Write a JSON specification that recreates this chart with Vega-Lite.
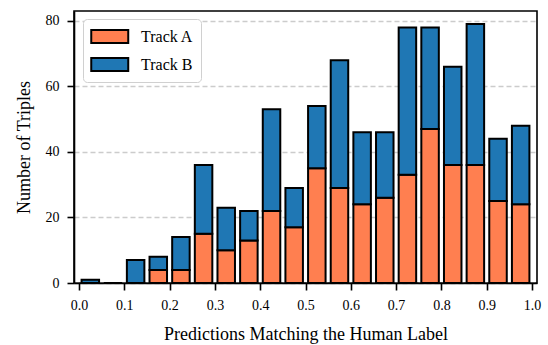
{
  "$schema": "https://vega.github.io/schema/vega-lite/v6.json",
  "autosize": {"type": "none"},
  "width": 463,
  "height": 272,
  "padding": {"left": 74, "top": 11, "right": 11, "bottom": 62},
  "background": "white",
  "config": {
    "font": "Liberation Serif",
    "view": {"stroke": "black", "strokeWidth": 1.6},
    "axis": {
      "labelFont": "Liberation Serif",
      "titleFont": "Liberation Serif",
      "labelFontSize": 14,
      "titleFontSize": 18,
      "titleFontWeight": "normal",
      "labelColor": "black",
      "titleColor": "black",
      "domainColor": "black",
      "domainWidth": 1.6,
      "tickColor": "black",
      "tickWidth": 1.6,
      "tickSize": 7
    }
  },
  "data": {
    "values": [
      {"bin": 0.025, "track": "Track A", "count": 0},
      {"bin": 0.025, "track": "Track B", "count": 1},
      {"bin": 0.075, "track": "Track A", "count": 0},
      {"bin": 0.075, "track": "Track B", "count": 0},
      {"bin": 0.125, "track": "Track A", "count": 0},
      {"bin": 0.125, "track": "Track B", "count": 7},
      {"bin": 0.175, "track": "Track A", "count": 4},
      {"bin": 0.175, "track": "Track B", "count": 4},
      {"bin": 0.225, "track": "Track A", "count": 4},
      {"bin": 0.225, "track": "Track B", "count": 10},
      {"bin": 0.275, "track": "Track A", "count": 15},
      {"bin": 0.275, "track": "Track B", "count": 21},
      {"bin": 0.325, "track": "Track A", "count": 10},
      {"bin": 0.325, "track": "Track B", "count": 13},
      {"bin": 0.375, "track": "Track A", "count": 13},
      {"bin": 0.375, "track": "Track B", "count": 9},
      {"bin": 0.425, "track": "Track A", "count": 22},
      {"bin": 0.425, "track": "Track B", "count": 31},
      {"bin": 0.475, "track": "Track A", "count": 17},
      {"bin": 0.475, "track": "Track B", "count": 12},
      {"bin": 0.525, "track": "Track A", "count": 35},
      {"bin": 0.525, "track": "Track B", "count": 19},
      {"bin": 0.575, "track": "Track A", "count": 29},
      {"bin": 0.575, "track": "Track B", "count": 39},
      {"bin": 0.625, "track": "Track A", "count": 24},
      {"bin": 0.625, "track": "Track B", "count": 22},
      {"bin": 0.675, "track": "Track A", "count": 26},
      {"bin": 0.675, "track": "Track B", "count": 20},
      {"bin": 0.725, "track": "Track A", "count": 33},
      {"bin": 0.725, "track": "Track B", "count": 45},
      {"bin": 0.775, "track": "Track A", "count": 47},
      {"bin": 0.775, "track": "Track B", "count": 31},
      {"bin": 0.825, "track": "Track A", "count": 36},
      {"bin": 0.825, "track": "Track B", "count": 30},
      {"bin": 0.875, "track": "Track A", "count": 36},
      {"bin": 0.875, "track": "Track B", "count": 43},
      {"bin": 0.925, "track": "Track A", "count": 25},
      {"bin": 0.925, "track": "Track B", "count": 19},
      {"bin": 0.975, "track": "Track A", "count": 24},
      {"bin": 0.975, "track": "Track B", "count": 24}
    ]
  },
  "mark": {"type": "bar", "width": 17.5, "stroke": "black", "strokeWidth": 2, "opacity": 1},
  "encoding": {
    "x": {
      "field": "bin",
      "type": "quantitative",
      "scale": {"domain": [0, 1], "nice": false, "zero": false},
      "axis": {
        "values": [0, 0.1, 0.2, 0.3, 0.4, 0.5, 0.6, 0.7, 0.8, 0.9, 1.0],
        "format": ".1f",
        "grid": false,
        "labelPadding": 8,
        "labelFlush": false,
        "title": "Predictions Matching the Human Label",
        "titlePadding": 13
      }
    },
    "y": {
      "field": "count",
      "type": "quantitative",
      "stack": "zero",
      "scale": {"domain": [0, 83], "nice": false},
      "axis": {
        "values": [0, 20, 40, 60, 80],
        "grid": true,
        "gridColor": "#cccccc",
        "gridDash": [5, 3],
        "gridWidth": 1.3,
        "labelPadding": 8,
        "title": "Number of Triples",
        "titlePadding": 12
      }
    },
    "fill": {
      "field": "track",
      "type": "nominal",
      "scale": {"domain": ["Track A", "Track B"], "range": ["#ff7f50", "#1f77b4"]},
      "legend": {
        "title": null,
        "orient": "none",
        "legendX": 9,
        "legendY": 8,
        "symbolType": "M-1,-0.7H3V0.7H-1Z",
        "symbolSize": 342,
        "symbolStrokeColor": "black",
        "symbolStrokeWidth": 2,
        "symbolOpacity": 1,
        "labelFont": "Liberation Serif",
        "labelFontSize": 16,
        "labelColor": "black",
        "labelOffset": 30,
        "rowPadding": 7,
        "padding": 7,
        "fillColor": "white",
        "strokeColor": "#d0d0d0",
        "cornerRadius": 4
      }
    },
    "order": {"field": "track", "sort": "ascending"}
  }
}
